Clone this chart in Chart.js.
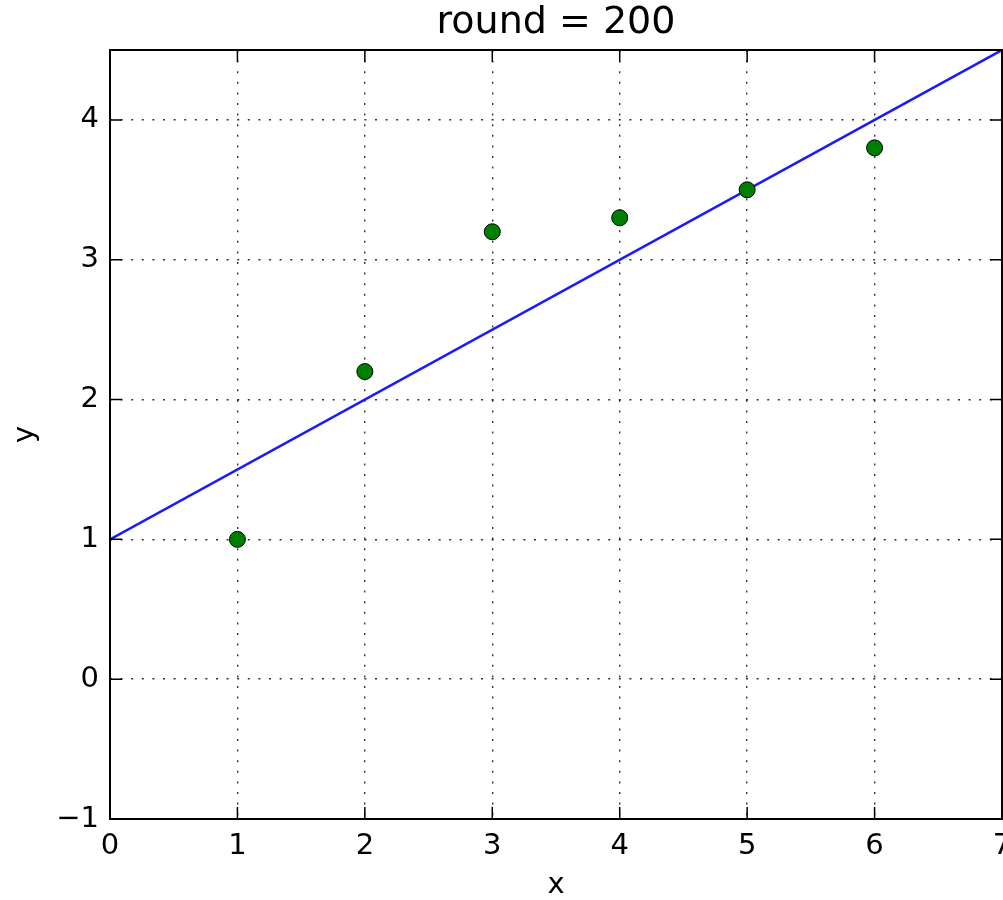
<!DOCTYPE html>
<html>
<head>
<meta charset="utf-8">
<script src="https://cdn.jsdelivr.net/npm/chart.js@4.4.1/dist/chart.umd.min.js"></script>
<style>
  body { margin: 0; background: #fff; }
</style>
</head>
<body>
<canvas id="my-chart" width="1003" height="900"></canvas>
<script>
// observed points
const xValues = [1, 2, 3, 4, 5, 6];
const yValues = [1.0, 2.2, 3.2, 3.3, 3.5, 3.8];

// fitted line after 200 rounds
const lineX = [0, 7];
const lineY = [1.0, 4.5];

const xTicks = [0, 1, 2, 3, 4, 5, 6, 7];
const yTicks = [-1, 0, 1, 2, 3, 4];

const FONT = "'DejaVu Sans', sans-serif";

const toPoints = (xs, ys) => xs.map((x, i) => ({ x: x, y: ys[i] }));

// matplotlib-style frame with inward ticks on all four sides
const framePlugin = {
  id: "frame",
  afterDraw: (chart) => {
    const { ctx, chartArea } = chart;
    const { left, right, top, bottom } = chartArea;
    const xs = chart.scales.x;
    const ys = chart.scales.y;
    const len = 12;
    ctx.save();
    ctx.strokeStyle = "#000";
    ctx.lineWidth = 1.5;
    ctx.beginPath();
    xTicks.forEach((v) => {
      const px = xs.getPixelForValue(v);
      ctx.moveTo(px, bottom);
      ctx.lineTo(px, bottom - len);
      ctx.moveTo(px, top);
      ctx.lineTo(px, top + len);
    });
    yTicks.forEach((v) => {
      const py = ys.getPixelForValue(v);
      ctx.moveTo(left, py);
      ctx.lineTo(left + len, py);
      ctx.moveTo(right, py);
      ctx.lineTo(right - len, py);
    });
    ctx.stroke();
    ctx.lineWidth = 2;
    ctx.strokeRect(left, top, right - left, bottom - top);
    ctx.restore();
  },
};

const gridStyle = {
  color: "rgba(0,0,0,0.8)",
  lineWidth: 1.4,
  drawTicks: false,
};

// grid lines are dotted, the frame itself is drawn by the plugin
const borderStyle = { display: false, dash: [2, 8.6] };

new Chart(document.getElementById("my-chart"), {
  type: "scatter",
  data: {
    datasets: [
      {
        label: "points",
        data: toPoints(xValues, yValues),
        backgroundColor: "#008000",
        borderColor: "#000",
        borderWidth: 1,
        pointRadius: 8,
        order: 0,
      },
      {
        label: "fit",
        data: toPoints(lineX, lineY),
        showLine: true,
        borderColor: "#1a1aff",
        borderWidth: 2.5,
        pointRadius: 0,
        order: 1,
      },
    ],
  },
  options: {
    responsive: false,
    animation: false,
    layout: { autoPadding: false, padding: { left: 0, right: 1, top: 0, bottom: 0 } },
    plugins: {
      legend: { display: false },
      tooltip: { enabled: false },
      title: {
        display: true,
        text: "round = 200",
        fullSize: false,
        color: "#000",
        font: { family: FONT, size: 38, weight: "normal", lineHeight: 1.2 },
        padding: { top: 0, bottom: 4.4 },
      },
    },
    scales: {
      x: {
        type: "linear",
        min: 0,
        max: 7,
        border: borderStyle,
        grid: gridStyle,
        ticks: {
          color: "#000",
          padding: 10,
          maxRotation: 0,
          font: { family: FONT, size: 29 },
        },
        afterBuildTicks: (scale) => {
          scale.ticks = xTicks.map((v) => ({ value: v }));
        },
        afterFit: (scale) => {
          scale.height = 81;
          scale.paddingLeft = 0;
          scale.paddingRight = 0;
        },
        title: {
          display: true,
          text: "x",
          color: "#000",
          font: { family: FONT, size: 29, lineHeight: 1 },
          padding: { top: 0, bottom: 0 },
        },
      },
      y: {
        type: "linear",
        min: -1,
        max: 4.5,
        border: borderStyle,
        grid: gridStyle,
        ticks: {
          color: "#000",
          padding: 11,
          font: { family: FONT, size: 29 },
          callback: (v) => String(v).replace("-", "\u2212"),
        },
        afterBuildTicks: (scale) => {
          scale.ticks = yTicks.map((v) => ({ value: v }));
        },
        afterFit: (scale) => {
          scale.width = 110;
          scale.paddingTop = 0;
          scale.paddingBottom = 0;
        },
        title: {
          display: true,
          text: "y",
          color: "#000",
          font: { family: FONT, size: 29, lineHeight: 1 },
          padding: { top: 11, bottom: 0 },
        },
      },
    },
  },
  plugins: [framePlugin],
});
</script>
</body>
</html>
